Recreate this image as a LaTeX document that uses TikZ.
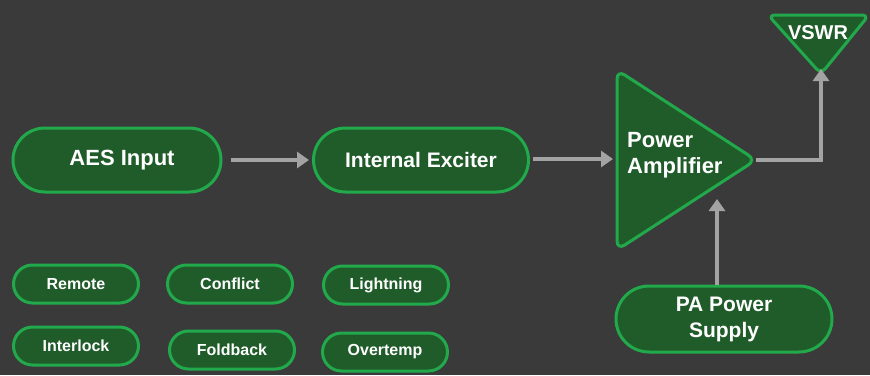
\documentclass[tikz,border=0pt]{standalone}
\usepackage{fontspec}
\setmainfont{Liberation Sans}
\usetikzlibrary{shapes.misc,arrows.meta}
\definecolor{bg}{HTML}{3A3A3A}
\definecolor{boxfill}{HTML}{1F5C29}
\definecolor{boxedge}{HTML}{22A94B}
\definecolor{wire}{HTML}{A3A3A3}
\tikzset{
  pill/.style={rounded rectangle, draw=boxedge, fill=boxfill, line width=3pt,
    text=white, font=\bfseries\fontsize{22}{26}\selectfont, align=center, inner sep=0pt},
  smallpill/.style={pill, minimum width=125pt, minimum height=38pt,
    font=\bfseries\fontsize{16}{18}\selectfont},
  flow/.style={draw=wire, line width=4pt, -{Triangle[length=12pt,width=16pt]}},
  label/.style={text=white, font=\bfseries\fontsize{22}{26}\selectfont, align=left, inner sep=0pt}
}
\begin{document}
\begin{tikzpicture}[x=1pt,y=-1pt]
  \fill[bg] (0,0) rectangle (870,375);
  \useasboundingbox (0,0) rectangle (870,375);

  % main signal chain
  \node[pill, minimum width=208pt, minimum height=64pt] (aes) at (117,160) {};
  \node[text=white, font=\bfseries\fontsize{22}{26}\selectfont, inner sep=0pt] (aestxt) at (122,160) {AES Input};
  \node[pill, minimum width=215pt, minimum height=64pt,
        font=\bfseries\fontsize{21}{24}\selectfont] (exc) at (421,160) {Internal Exciter};

  % power amplifier triangle
  \coordinate (patop) at (617,70);
  \coordinate (pabot) at (617,250);
  \coordinate (pain) at (617,159);
  \coordinate (paout) at (756,160);
  \filldraw[fill=boxfill, draw=boxedge, line width=3pt, rounded corners=9pt]
    (patop) -- (paout) -- (pabot) -- cycle;
  \node[label, anchor=west] (pa) at (627,155) {Power\\Amplifier};

  % VSWR inverted triangle
  \coordinate (vsl) at (768,15);
  \coordinate (vsr) at (869,15);
  \coordinate (vsb) at (821,74);
  \filldraw[fill=boxfill, draw=boxedge, line width=3pt, rounded corners=7pt]
    (vsl) -- (vsr) -- (vsb) -- cycle;
  \node[text=white, font=\bfseries\fontsize{20}{22}\selectfont, inner sep=0pt] (vswr) at (818,33) {VSWR};

  % PA power supply
  \node[pill, minimum width=216pt, minimum height=66pt,
        font=\bfseries\fontsize{21}{26}\selectfont] (psu) at (724,319) {PA Power\\Supply};
  \coordinate (pafeed) at (717,199);

  % connectors
  \draw[flow] (aes.east) ++(8,0) coordinate (a1) -- ([xshift=-3pt]exc.west);
  \draw[flow] (exc.east) ++(3,-1) coordinate (e1) -- ([xshift=-4pt]pain);
  \draw[flow] (paout) -| ([yshift=5pt]vsb);
  \draw[flow] (psu.north -| pafeed) -- (pafeed);

  % status indicators
  \node[smallpill] (remote)    at (76,284)  {Remote};
  \node[smallpill] (conflict)  at (230,284) {Conflict};
  \node[smallpill] (lightning) at (386,285) {Lightning};
  \node[smallpill] (interlock) at (76,346)  {Interlock};
  \node[smallpill] (foldback)  at (232,350) {Foldback};
  \node[smallpill] (overtemp)  at (385,352) {Overtemp};
\end{tikzpicture}
\end{document}
